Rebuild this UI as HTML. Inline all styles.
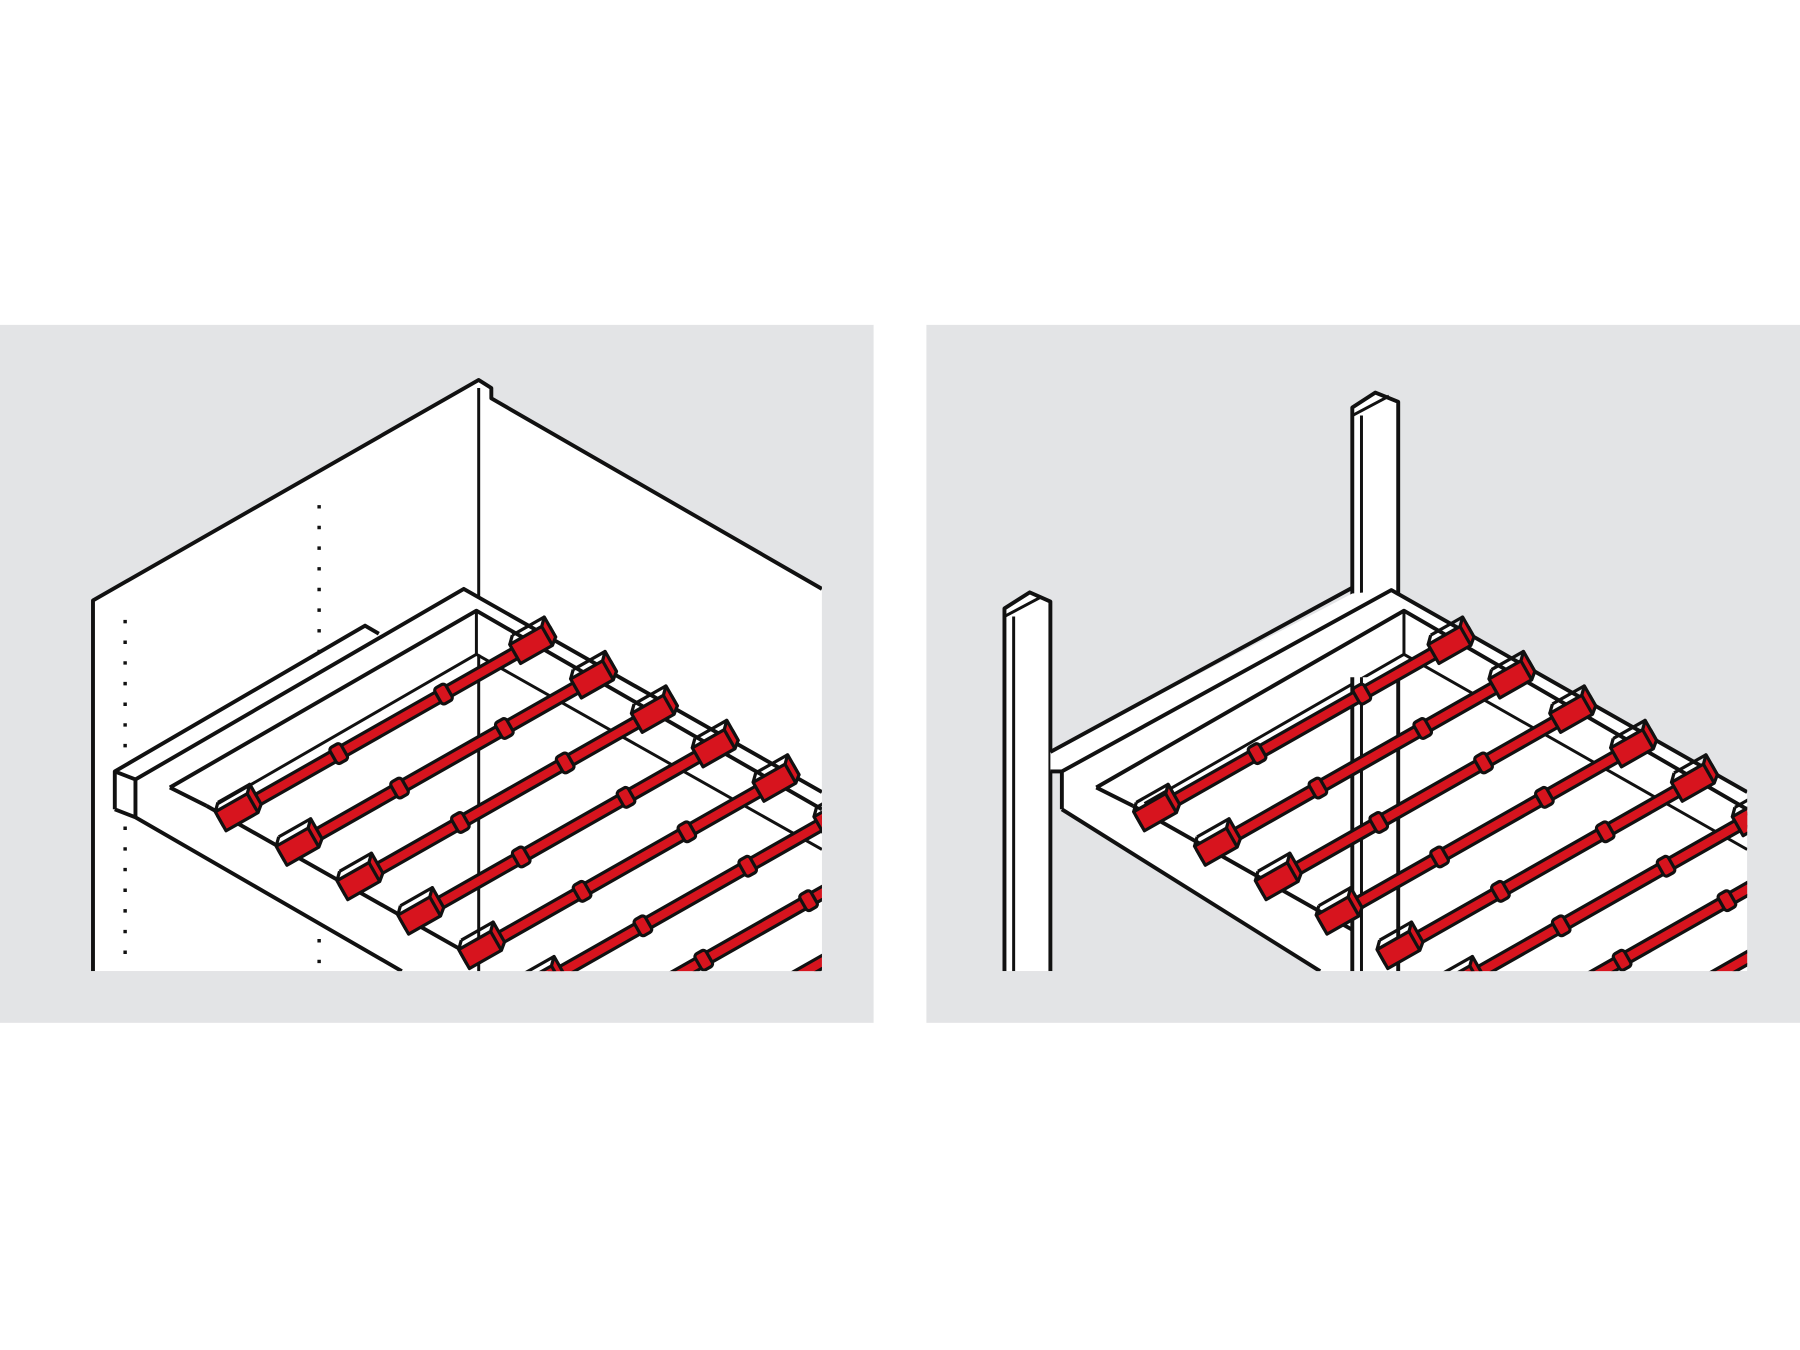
<!DOCTYPE html>
<html><head><meta charset="utf-8"><style>
html,body{margin:0;padding:0;background:#fff;width:1800px;height:1350px;overflow:hidden}
svg{display:block}
</style></head><body>
<svg width="1800" height="1350" viewBox="0 0 1568 1176" preserveAspectRatio="none" xmlns="http://www.w3.org/2000/svg">
<defs>
<clipPath id="cl"><rect x="0" y="0" width="716" height="846"/></clipPath>
<clipPath id="cr"><rect x="807" y="0" width="715" height="846"/></clipPath>
<g id="slat" stroke="#111" stroke-width="2.8" stroke-linejoin="round">
  <g transform="rotate(-29.6)">
    <rect x="0" y="-5" width="333" height="10" fill="#d7141e"/>
    <rect x="113" y="-8" width="11" height="16" rx="3" fill="#d7141e"/>
    <rect x="218" y="-8" width="11" height="16" rx="3" fill="#d7141e"/>
    <polygon points="0,-9 32,-9 38,-15 38,5 32,10 0,10" fill="#d7141e"/>
    <line x1="32" y1="-9" x2="32" y2="10"/>
    <polygon points="295,-9 327,-9 333,-15 333,5 327,10 295,10" fill="#d7141e"/>
    <line x1="327" y1="-9" x2="327" y2="10"/>
    <line x1="295" y1="-9" x2="301" y2="-15"/><line x1="301" y1="-15" x2="333" y2="-15"/>
    <line x1="0" y1="-9" x2="6" y2="-15"/><line x1="6" y1="-15" x2="38" y2="-15"/>
  </g>
</g>
<g id="slats">
  <use href="#slat" x="192" y="715"/>
  <use href="#slat" x="245" y="745"/>
  <use href="#slat" x="298" y="775"/>
  <use href="#slat" x="351" y="805"/>
  <use href="#slat" x="404" y="835"/>
  <use href="#slat" x="457" y="865"/>
  <use href="#slat" x="510" y="895"/>
  <use href="#slat" x="563" y="925"/>
</g>
</defs>
<rect x="0" y="283" width="761" height="608" fill="#e3e4e6"/>
<rect x="807" y="283" width="761" height="608" fill="#e3e4e6"/>

<!-- LEFT PANEL -->
<g clip-path="url(#cl)" fill="none" stroke="#111" stroke-width="3.4" stroke-linejoin="round">
  <polygon points="81,523 417,331 428,338 428,347 716,513 716,846 81,846" fill="#fff" stroke="none"/>
  <polyline points="81,846 81,523 417,331 428,338 428,347 716,513"/>
  <line x1="417" y1="338" x2="417" y2="846" stroke-width="2.6"/>
  <line x1="109" y1="540" x2="109" y2="846" stroke-width="3" stroke-dasharray="3,15"/>
  <line x1="278" y1="440" x2="278" y2="846" stroke-width="3" stroke-dasharray="3,15"/>
  <!-- shelf -->
  <polygon points="100,672 318,545 330,552 404,513 716,690 716,846 350,846 100,705" fill="#fff" stroke="none"/>
  <polyline points="100,705 100,672 318,545 330,552"/>
  <polyline points="118,712 118,679 404,513 716,690"/>
  <line x1="100" y1="672" x2="118" y2="679"/>
  <polyline points="100,705 118,712 350,846"/>
  <polyline points="148,686 415,532 716,705"/>
  <line x1="415" y1="532" x2="415" y2="570" stroke-width="2.6"/>
  <line x1="415" y1="570" x2="716" y2="740" stroke-width="2.6"/>
  <line x1="148" y1="686" x2="180" y2="702"/>
  <line x1="180" y1="702" x2="410" y2="832"/>
  <line x1="415" y1="570" x2="190" y2="700" stroke-width="2.6"/>
  <line x1="417" y1="570" x2="417" y2="846" stroke-width="2.6"/>
  <use href="#slats"/>
</g>

<!-- RIGHT PANEL -->
<g clip-path="url(#cr)" fill="none" stroke="#111" stroke-width="3.4" stroke-linejoin="round">
  <polygon points="1178,355 1198,342 1218,350 1218,846 1178,846" fill="#fff" stroke="none"/>
  <polyline points="1178,846 1178,355 1198,342 1218,350 1218,520"/>
  <line x1="1178" y1="362" x2="1210" y2="345" stroke-width="2.6"/>
  <line x1="1186" y1="362" x2="1186" y2="520" stroke-width="2.6"/>
  <polygon points="875,530 897,516 915,524 915,846 875,846" fill="#fff" stroke="none"/>
  <polyline points="875,846 875,530 897,516 915,524 915,846"/>
  <line x1="875" y1="537" x2="907" y2="520" stroke-width="2.6"/>
  <line x1="883" y1="537" x2="883" y2="846" stroke-width="2.6"/>
  <!-- shelf -->
  <polygon points="915,655 1178,517 1212,514 1522,690 1522,846 1150,846 925,705 925,672 915,672" fill="#fff" stroke="none"/>
  <polyline points="915,655 1178,512"/>
  <polyline points="915,672 925,672"/>
  <polyline points="925,705 925,672 1212,514 1522,690"/>
  <polyline points="925,705 1150,846"/>
  <polyline points="955,686 1223,532 1522,705"/>
  <line x1="1223" y1="532" x2="1223" y2="570" stroke-width="2.6"/>
  <line x1="1223" y1="570" x2="1522" y2="740" stroke-width="2.6"/>
  <line x1="955" y1="686" x2="987" y2="702"/>
  <line x1="987" y1="702" x2="1217" y2="832"/>
  <line x1="1223" y1="570" x2="997" y2="700" stroke-width="2.6"/>
  <polygon points="1178,590 1218,590 1218,846 1178,846" fill="#fff" stroke="none"/>
  <line x1="1178" y1="590" x2="1178" y2="846"/>
  <line x1="1186" y1="590" x2="1186" y2="846" stroke-width="2.6"/>
  <line x1="1218" y1="590" x2="1218" y2="846"/>
  <use href="#slats" x="800"/>
</g>
</svg>
</body></html>
